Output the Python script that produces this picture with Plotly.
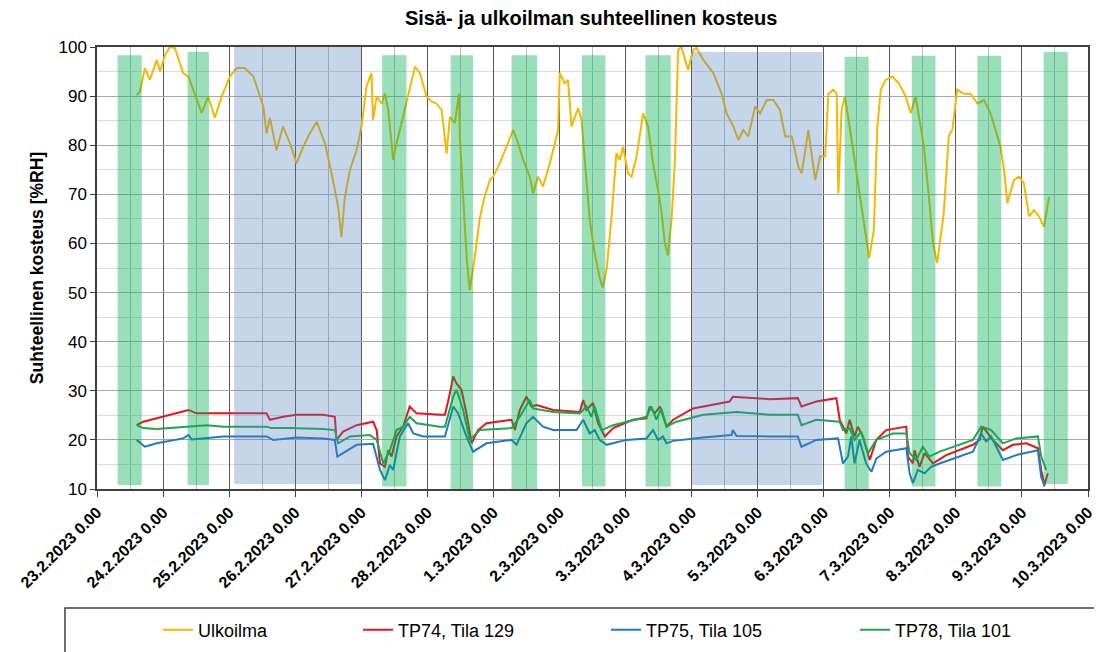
import pandas as pd
import plotly.graph_objects as go

START = pd.Timestamp("2023-02-23 00:00")

# ---- data (hours since 23.2.2023 0.00, relative humidity %RH) ----
out_h = [14.4, 15.6, 17.4, 19.2, 21.7, 22.9, 24.7, 26.5, 28.3, 30.1, 31.3, 33.2, 35.0, 38.0, 40.4, 42.8,
         45.3, 48.3, 50.7, 53.7, 56.8, 60.4, 61.6, 62.8, 65.2, 67.6, 70.1, 72.5, 74.9, 77.3, 79.8, 82.8,
         85.2, 87.6, 88.8, 90.0, 91.9, 94.3, 96.1, 97.9, 99.7, 100.3, 101.6, 103.4, 104.6, 105.8, 107.6,
         108.8, 111.2, 113.0, 115.5, 117.3, 119.7, 121.5, 123.3, 125.2, 127.0, 128.2, 130.0, 131.5, 131.8,
         133.0, 134.3, 135.4, 137.2, 139.0, 140.8, 142.7, 143.9, 146.3, 148.8, 151.2, 153.0, 154.8, 157.2,
         158.4, 160.2, 162.0, 164.5, 166.3, 167.5, 168.1, 169.9, 171.1, 172.4, 173.6, 174.8, 176.0, 177.8,
         179.0, 180.8, 182.6, 183.7, 185.2, 187.0, 188.7, 189.9, 191.1, 192.9, 194.2, 196.0, 198.4, 200.2,
         202.0, 203.8, 205.0, 206.3, 207.4, 208.7, 209.9, 211.1, 212.3, 214.7, 216.6, 217.8, 220.2, 223.9,
         226.9, 228.7, 231.2, 233.0, 234.8, 236.6, 239.1, 240.9, 243.3, 245.7, 248.1, 250.0, 252.4, 254.8,
         256.0, 258.4, 260.9, 262.7, 264.5, 265.7, 267.5, 268.7, 269.3, 270.5, 271.7, 273.6, 275.4, 277.2,
         279.0, 280.5, 282.2, 283.4, 284.7, 286.5, 288.9, 291.3, 293.8, 295.6, 297.4, 298.6, 300.4, 302.2,
         303.7, 305.2, 307.6, 309.4, 310.7, 312.5, 314.9, 317.3, 319.8, 322.2, 324.6, 326.4, 328.2, 329.5,
         330.7, 333.1, 334.9, 336.7, 338.6, 340.4, 342.2, 344.0, 345.3, 345.9]
out_v = [90.2, 90.9, 95.7, 93.3, 97.4, 95.0, 98.4, 100.0, 99.8, 97.0, 94.7, 94.0, 91.3, 86.6, 89.9, 85.6,
         89.9, 94.0, 95.7, 95.7, 94.0, 87.9, 82.4, 85.6, 79.0, 83.8, 80.4, 76.3, 79.7, 82.4, 84.8, 80.4,
         74.3, 67.5, 61.3, 69.3, 75.0, 79.0, 83.8, 92.0, 94.7, 85.2, 89.9, 88.5, 90.5, 87.2, 77.0,
         80.4, 85.8, 89.9, 96.0, 94.7, 89.9, 88.9, 88.5, 87.2, 78.3, 85.8, 84.5, 90.5, 81.8,
         69.5, 57.0, 50.5, 57.0, 65.0, 69.5, 72.9, 73.6, 76.3, 79.7, 83.1, 80.4, 77.0, 73.6,
         70.2, 73.6, 71.6, 76.3, 80.4, 83.1, 94.7, 92.6, 93.3, 83.8, 85.8, 87.5, 85.2, 72.9,
         64.8, 58.0, 53.0, 51.0, 55.0, 66.0, 78.4, 77.0, 79.7, 74.3, 73.6, 77.7, 86.5, 83.8,
         76.3, 70.9, 66.8, 60.0, 57.6, 64.8, 76.4, 99.4, 100.0, 95.3, 99.4, 99.8, 97.4, 94.7,
         90.5, 86.5, 83.8, 81.1, 83.1, 81.8, 87.9, 86.5, 89.2, 89.2, 87.2, 81.8, 81.8, 75.6,
         74.3, 83.1, 72.9, 77.7, 77.7, 90.5, 91.3, 90.5, 70.2, 87.2, 89.9, 83.1, 76.3, 69.5,
         62.7, 57.0, 62.7, 83.1, 91.3, 93.3, 94.0, 92.6, 89.9, 86.5, 89.9, 85.8, 79.7, 69.5,
         60.0, 56.0, 66.1, 81.8, 83.1, 91.3, 90.5, 90.5, 88.5, 89.2, 86.5, 83.1, 79.7, 75.0,
         68.2, 72.9, 73.6, 72.3, 65.5, 66.8, 65.5, 63.4, 67.5, 69.5, 66.8]

tp74_h = [14.4, 16.8, 21.7, 26.5, 31.3, 33.2, 36.2, 41.0, 48.3, 61.6, 62.8, 67.6, 72.5, 82.2, 86.4, 87.0,
          89.4, 94.3, 100.3, 101.6, 102.8, 104.6, 105.8, 107.0, 108.8, 111.2, 113.6, 116.1, 124.5, 126.4,
          128.2, 129.4, 130.6, 132.4, 134.2, 136.1, 138.4, 141.5, 150.6, 151.8, 153.6, 156.0, 157.8, 159.7,
          165.7, 175.4, 176.6, 177.8, 180.2, 182.0, 184.5, 187.5, 194.7, 199.6, 200.8, 202.6, 204.5, 206.9,
          209.3, 216.5, 229.8, 231.0, 244.4, 254.6, 255.9, 261.3, 268.6, 269.8, 272.2, 273.4, 275.2, 276.4,
          278.2, 280.7, 283.1, 286.7, 294.0, 294.6, 296.4, 297.0, 298.8, 300.6, 303.7, 308.5, 318.2, 320.6,
          321.8, 323.6, 325.4, 329.1, 332.7, 337.6, 341.8, 343.0, 344.2, 345.4]
tp74_v = [23.0, 23.7, 24.4, 25.1, 25.7, 26.1, 25.4, 25.4, 25.5, 25.4, 24.1, 24.7, 25.1, 25.1, 24.7, 20.0,
          21.7, 23.0, 23.7, 22.0, 15.2, 14.5, 17.9, 16.6, 20.7, 22.7, 26.8, 25.4, 25.1, 25.1,
          29.5, 32.9, 31.5, 30.2, 25.4, 19.3, 22.0, 23.4, 24.1, 22.0, 26.1, 28.8, 26.8, 27.1,
          26.1, 25.7, 28.1, 26.1, 27.5, 23.4, 20.7, 22.4, 24.1, 24.4, 26.8, 25.4, 26.8, 22.7,
          24.1, 26.4, 27.8, 28.8, 28.3, 28.5, 26.8, 27.8, 28.5, 24.1, 21.3, 24.1, 20.7, 22.7,
          20.7, 15.9, 20.0, 22.0, 22.7, 16.6, 15.2, 17.9, 14.5, 17.3, 15.2, 16.9, 19.0, 20.0,
          22.7, 21.3, 20.0, 17.9, 19.0, 19.3, 18.3, 13.9, 10.8, 13.2]

tp75_h = [14.4, 17.4, 21.7, 31.3, 33.2, 34.4, 45.9, 61.6, 64.0, 72.5, 82.2, 86.4, 87.3, 89.4, 94.3, 100.3,
          102.8, 104.6, 106.4, 107.6, 110.0, 113.0, 114.9, 118.5, 126.4, 129.4, 131.2, 134.2, 136.6, 141.5,
          150.6, 152.4, 156.0, 158.4, 162.0, 165.7, 174.2, 176.6, 179.0, 180.8, 182.6, 185.1, 192.3, 199.6,
          202.0, 203.8, 205.6, 206.9, 209.3, 220.2, 230.5, 231.0, 232.3, 244.4, 254.6, 255.9, 261.3, 269.2,
          271.0, 272.8, 274.0, 275.2, 277.0, 279.4, 281.3, 283.1, 286.7, 294.0, 295.2, 296.4, 298.2, 300.6,
          303.0, 306.1, 318.2, 321.2, 323.0, 324.8, 329.1, 333.9, 341.8, 343.0, 344.2]
tp75_v = [20.0, 18.6, 19.3, 20.3, 21.0, 20.1, 20.7, 20.7, 20.0, 20.5, 20.3, 20.0, 16.6, 17.3, 19.0, 19.2,
          13.9, 11.8, 14.9, 13.9, 20.7, 23.4, 21.3, 20.7, 20.7, 26.8, 25.4, 20.7, 17.6, 19.3,
          20.0, 19.0, 23.4, 24.7, 22.7, 22.0, 22.0, 24.1, 21.3, 22.0, 20.0, 19.0, 20.0, 20.3,
          22.0, 20.0, 20.7, 19.3, 19.8, 20.5, 21.0, 22.0, 20.8, 20.7, 20.7, 18.6, 20.0, 20.3,
          15.2, 16.6, 20.7, 15.2, 20.0, 15.2, 13.5, 16.2, 17.6, 18.3, 13.2, 11.2, 13.9, 13.2,
          14.5, 15.2, 17.6, 21.3, 19.7, 20.7, 15.9, 16.9, 17.9, 12.5, 10.5]

tp78_h = [14.4, 16.8, 21.7, 33.8, 39.8, 45.9, 61.6, 63.4, 70.1, 82.2, 86.4, 87.6, 91.9, 99.1, 101.6, 104.0,
          106.4, 108.8, 111.2, 113.6, 116.1, 124.5, 126.4, 129.4, 130.6, 133.0, 135.4, 139.1, 150.6, 153.6,
          157.2, 158.4, 165.7, 175.4, 177.8, 179.6, 180.8, 183.3, 187.5, 199.6, 201.4, 203.2, 205.0, 206.9,
          210.5, 220.2, 232.3, 244.4, 254.6, 255.9, 261.3, 269.8, 271.0, 273.4, 275.2, 277.6, 280.1, 283.1,
          289.1, 294.0, 295.2, 297.6, 300.0, 302.4, 306.1, 318.2, 321.2, 323.0, 324.8, 329.1, 333.9, 341.8,
          343.0, 344.8]
tp78_v = [23.0, 22.4, 22.2, 22.7, 23.0, 22.7, 22.7, 22.4, 22.4, 22.2, 22.0, 19.3, 20.7, 21.0, 20.0, 15.2,
          17.9, 22.0, 22.7, 24.7, 23.4, 22.7, 22.7, 28.8, 30.2, 26.1, 20.0, 22.0, 22.4, 24.7,
          28.1, 26.4, 25.7, 25.4, 26.8, 24.7, 26.8, 22.0, 23.0, 24.7, 26.8, 24.1, 26.4, 22.7,
          23.7, 25.1, 25.7, 25.1, 25.1, 23.0, 24.1, 23.7, 22.0, 22.4, 20.0, 21.7, 17.3, 20.0,
          21.3, 21.3, 17.3, 15.9, 18.6, 16.6, 17.6, 20.0, 22.7, 22.4, 22.0, 19.3, 20.3, 20.7,
          16.6, 13.9]

# working-hour periods (green) and weekends (blue)
work_start = ["2023-02-23 07:30", "2023-02-24 08:55", "2023-02-27 07:35", "2023-02-28 08:30",
              "2023-03-01 06:35", "2023-03-02 08:10", "2023-03-03 07:15", "2023-03-06 07:35",
              "2023-03-07 08:00", "2023-03-08 07:50", "2023-03-09 07:55"]
work_end = ["2023-02-23 16:15", "2023-02-24 16:40", "2023-02-27 16:25", "2023-02-28 16:35",
            "2023-03-01 15:55", "2023-03-02 16:40", "2023-03-03 16:25", "2023-03-06 16:20",
            "2023-03-07 16:35", "2023-03-08 16:30", "2023-03-09 16:40"]
work_top = [98.3, 99.0, 98.3, 98.3, 98.3, 98.3, 98.3, 98.0, 98.2, 98.2, 99.0]
work_bottom = [10.8, 10.8, 10.5, 9.1, 9.5, 10.5, 10.5, 9.5, 10.5, 10.5, 11.0]

weekend_start = ["2023-02-25 01:50", "2023-03-04 00:05"]
weekend_end = ["2023-02-27 00:00", "2023-03-05 23:30"]
weekend_top = [100.0, 99.0]
weekend_bottom = [11.0, 10.8]

x_ticks_start = "2023-02-23"
x_ticks_end = "2023-03-10"
y_range = [10, 100]

series = [
    ("Ulkoilma", out_h, out_v, "#F5B800", "legend"),
    ("TP74, Tila 129", tp74_h, tp74_v, "#E8141C", "legend2"),
    ("TP75, Tila 105", tp75_h, tp75_v, "#1F78C8", "legend3"),
    ("TP78, Tila 101", tp78_h, tp78_v, "#21A552", "legend4"),
]

FONT = "Liberation Sans, Arial, sans-serif"

fig = go.Figure()
for name, hh, vv, col, lg in series:
    t = START + pd.to_timedelta(hh, unit="h")
    fig.add_trace(go.Scatter(x=t, y=vv, mode="lines", name=name,
                             line=dict(color=col, width=2), legend=lg))

for s, e, t0, b0 in zip(work_start, work_end, work_top, work_bottom):
    fig.add_shape(type="rect", xref="x", yref="y", x0=s, x1=e, y0=b0, y1=t0,
                  fillcolor="#00B050", opacity=0.4, line=dict(width=0), layer="above")
for s, e, t0, b0 in zip(weekend_start, weekend_end, weekend_top, weekend_bottom):
    fig.add_shape(type="rect", xref="x", yref="y", x0=s, x1=e, y0=b0, y1=t0,
                  fillcolor="#4F81BD", opacity=0.32, line=dict(width=0), layer="above")

# legend frame
fig.add_shape(type="rect", xref="paper", yref="paper", x0=-0.0323, x1=1.03, y0=-0.42, y1=-0.269,
              line=dict(color="#404040", width=1.5), fillcolor="rgba(0,0,0,0)", layer="above")

leg_common = dict(orientation="h", xanchor="left", yanchor="middle", y=-0.319,
                  bgcolor="rgba(0,0,0,0)", borderwidth=0,
                  font=dict(family=FONT, size=18, color="#000000"))
fig.update_layout(
    legend=dict(x=0.0616, **leg_common),
    legend2=dict(x=0.2634, **leg_common),
    legend3=dict(x=0.5136, **leg_common),
    legend4=dict(x=0.7649, **leg_common),
)

# page has an 8px body margin, so the figure is 8px smaller than the window
fig.update_layout(
    width=1094, height=644,
    margin=dict(l=89, r=14, t=39, b=163, autoexpand=False),
    paper_bgcolor="white", plot_bgcolor="white",
    font=dict(family=FONT, color="#000000"),
    title=dict(text="<b>Sisä- ja ulkoilman suhteellinen kosteus</b>", x=0.533, xanchor="center",
               y=0.985, yanchor="middle", font=dict(family=FONT, size=20, color="#000000")),
    showlegend=True,
)

fig.update_xaxes(
    type="date", range=[x_ticks_start, x_ticks_end], automargin=False,
    tick0=x_ticks_start, dtick=86400000, tickformat="<b>%-d.%-m.%Y %-H.%M</b>",
    tickangle=-45, ticks="outside", ticklen=6, tickcolor="#404040",
    tickfont=dict(family=FONT, size=16, color="#000000", weight="bold"),
    showgrid=True, gridcolor="#595959", gridwidth=1,
    minor=dict(dtick=43200000, showgrid=True, gridcolor="#bcbcbc", ticks=""),
    showline=True, linecolor="#404040", linewidth=1.5, mirror=True, zeroline=False,
)
fig.update_yaxes(
    range=y_range, dtick=10, tick0=10, ticks="outside", ticklen=5, tickcolor="#404040",
    automargin=False,
    tickfont=dict(family=FONT, size=17, color="#000000"),
    showgrid=True, gridcolor="#a8a8a8", gridwidth=1,
    minor=dict(dtick=5, showgrid=True, gridcolor="#dcdcdc", ticks=""),
    showline=True, linecolor="#404040", linewidth=1.5, mirror=True, zeroline=False,
    title=dict(text="<b>Suhteellinen kosteus [%RH]</b>", standoff=10,
               font=dict(family=FONT, size=17.5, color="#000000")),
)

fig.write_html("out.html")
